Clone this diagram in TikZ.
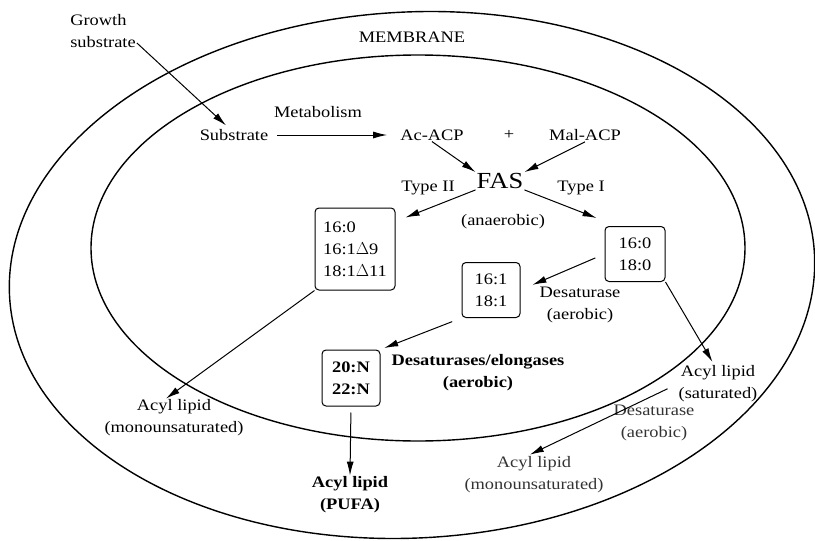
\documentclass[tikz,border=0pt]{standalone}
\usepackage{fontspec}
\setmainfont{Liberation Serif}[FakeStretch=1.15]
\usetikzlibrary{
  arrows.meta,
  positioning
}

\begin{document}
\begin{tikzpicture}[
      x=1pt, y=-1pt,
      >={Latex[length=14pt,width=7pt]},
      txt/.style={font=\fontsize{16}{22}\selectfont, inner sep=1pt, align=center},
      txtb/.style={font=\fontsize{16}{22}\selectfont\bfseries, inner sep=1pt, align=center},
      caixa/.style={draw, line width=1pt, rounded corners=4pt, font=\fontsize{16}{22}\selectfont, align=left, inner sep=0pt},
      seta/.style={->, line width=1pt},
      memb/.style={line width=1.4pt}
  ]
      \useasboundingbox (0,0) rectangle (815,541);

      % Membrana
      \draw[memb, rotate around={3:(412,275)}] (412,275) ellipse [x radius=403, y radius=263];
      \draw[memb] (418,248) ellipse [x radius=327, y radius=193];
      \node[txt] (memb) at (412,37) {MEMBRANE};

      % Entrada
      \node[txt, align=left] (gs) at (103,31) {Growth\\substrate};
      \node[txt] (sub) at (234,135) {Substrate};
      \node[txt] (acacp) at (432,135) {Ac-ACP};
      \node[txt] (plus) at (509,135) {+};
      \node[txt] (malacp) at (585,135) {Mal-ACP};
      \node[txt] (metab) at (318,112) {Metabolism};
      \node[txt, font=\fontsize{23}{26}\selectfont] (fas) at (500,181) {FAS};
      \node[txt] (t2) at (428,188) {Type II};
      \node[txt] (t1) at (581,188) {Type I};
      \node[txt] (anaer) at (503,222) {(anaerobic)};

      % Acidos graxos
      \node[caixa, minimum width=80, minimum height=82] (box1) at (355,249) {16:0\\16:1$\Delta$9\\18:1$\Delta$11};
      \node[caixa, align=center, minimum width=60, minimum height=55] (box2) at (635,254) {16:0\\18:0};
      \node[caixa, align=center, minimum width=58, minimum height=55] (box3) at (491,290) {16:1\\18:1};
      \node[caixa, align=center, minimum width=58, minimum height=56, font=\fontsize{16}{22}\selectfont\bfseries] (box4) at (351,378) {20:N\\22:N};
      \node[txt] (des1) at (580,305) {Desaturase\\(aerobic)};
      \node[txtb] (des2) at (478,373) {Desaturases/elongases\\(aerobic)};

      % Lipideos
      \node[txt] (acylL) at (174,418) {Acyl lipid\\(monounsaturated)};
      \node[txtb] (pufa) at (350,495) {Acyl lipid\\(PUFA)};
      \node[txt] (acylS) at (718,384) {Acyl lipid\\(saturated)};
      \node[txt, text=black!80] (acylR) at (534,475) {Acyl lipid\\(monounsaturated)};
      \node[txt, text=black!80] (des3) at (654,423) {Desaturase\\(aerobic)};

      \draw[seta, shorten >=4pt] ([yshift=-12pt]gs.east) -- ([xshift=-5pt]sub.north);
      \draw[seta, shorten <=8pt, shorten >=12pt] (sub.east) -- (acacp.west);
      \draw[seta] (acacp.south) -- (fas.north west);
      \draw[seta] (malacp.south) -- (fas.north east);
      \draw[seta] (fas.south west) -- ([xshift=10pt,yshift=-10pt]box1.north east);
      \draw[seta] (fas.south east) -- ([xshift=-8pt,yshift=8pt]box2.north west);
      \draw[seta, shorten <=10pt, shorten >=13pt] (box2.west) -- (box3.east);
      \draw[seta, shorten <=10pt, shorten >=4pt] (box3.south west) -- (box4.north east);
      \draw[seta, shorten <=6pt] (box4.south) -- (pufa.north);
      \draw[seta] (box1.south west) -- ([xshift=-8pt]acylL.north);
      \draw[seta, shorten >=3pt] (box2.south east) -- ([xshift=-4pt]acylS.north);
      \draw[seta, shorten <=11pt, shorten >=2pt] (acylS.west) -- ([xshift=-6pt]acylR.north);

  \end{tikzpicture}
\end{document}
